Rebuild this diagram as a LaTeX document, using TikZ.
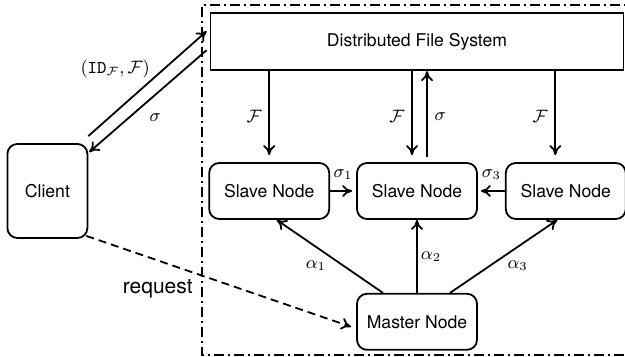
\documentclass[tikz,border=0pt]{standalone}
\usepackage{amsmath}
\usepackage[no-math]{fontspec}
\setmainfont{TeX Gyre Heros}
\usetikzlibrary{arrows.meta,positioning}

\begin{document}
\begin{tikzpicture}[
  x=1pt, y=1pt,
  font=\fontsize{8.8}{10.5}\selectfont,
  box/.style={draw, rounded corners=5pt, minimum width=60pt,
              minimum height=28pt, line width=0.9pt, align=center},
  arrow/.style={-{Computer Modern Rightarrow[length=5pt,width=6pt]},
                line width=0.9pt},
  lbl/.style={inner sep=1.5pt},
  frame/.style={line width=0.9pt, dash pattern=on 5pt off 2pt on 1pt off 2pt}
]
\useasboundingbox (0,0) rectangle (312.5,178.5);
\clip (0,0) rectangle (312.5,178.5);

%% Cluster frame
\draw[frame] (320,176) -| (101,1) -- (320,1);

%% Nodes
\node[box] (slave-2) at (208.5,83) {Slave Node};
\node[box, left=13pt of slave-2] (slave-1) {Slave Node};
\node[box, right=13.5pt of slave-2] (slave-3) {Slave Node};
\node[box, below=36.5pt of slave-2] (master) {Master Node};
\node[draw, line width=0.9pt, minimum width=206.5pt, minimum height=28.5pt,
      above=45.5pt of slave-2] (dfs) {Distributed File System};
\node[box, minimum width=40pt, minimum height=47pt,
      left=60pt of slave-1] (client) {Client};

%% Client <-> file system
\draw[arrow] ([yshift=3.5pt]client.north east)
  -- ([xshift=-1.5pt,yshift=5.25pt]dfs.west)
  node[midway, above left, xshift=5pt, yshift=-1pt]
  {$(\mathtt{ID}_{\mathcal{F}},\mathcal{F})$};
\draw[arrow] ([xshift=-1.5pt,yshift=-4.25pt]dfs.west)
  -- ([xshift=0.5pt,yshift=-4.5pt]client.north east)
  node[pos=0.55, below right] {$\sigma$};

%% File system -> slaves
\coordinate (f-2) at ([xshift=-2.5pt]slave-2.north);
\coordinate (s-2) at ([xshift=5pt]slave-2.north);
\coordinate (f-3) at ([xshift=-5.25pt]slave-3.north);
\draw[arrow, shorten >=3.5pt] (slave-1.north |- dfs.south) -- (slave-1.north)
  node[midway, left] {$\mathcal{F}$};
\draw[arrow, shorten >=3.5pt] (f-2 |- dfs.south) -- (f-2)
  node[midway, left] {$\mathcal{F}$};
\draw[arrow, shorten <=2.5pt] (s-2) -- (s-2 |- dfs.south)
  node[midway, right] {$\sigma$};
\draw[arrow, shorten >=3.5pt] (f-3 |- dfs.south) -- (f-3)
  node[midway, left] {$\mathcal{F}$};

%% Slave -> slave
\draw[arrow, shorten >=2pt] (slave-1) -- (slave-2)
  node[midway, above=2pt] {$\sigma_1$};
\draw[arrow, shorten >=1.5pt] (slave-3) -- (slave-2)
  node[midway, above=2pt] {$\sigma_3$};

%% Master -> slaves
\draw[arrow] ([xshift=-17pt]master.north) -- ([xshift=3.75pt]slave-1.south)
  node[midway, below left, lbl] {$\alpha_1$};
\draw[arrow] (master) -- (slave-2)
  node[midway, right, lbl] {$\alpha_2$};
\draw[arrow] ([xshift=16.5pt]master.north) -- ([xshift=-4.25pt]slave-3.south)
  node[midway, below right, lbl] {$\alpha_3$};

%% Request
\draw[arrow, dash pattern=on 4pt off 2.5pt]
  ([xshift=-1pt,yshift=1.5pt]client.south east)
  -- ([xshift=-2.5pt,yshift=-2.5pt]master.west)
  node[pos=0.42, below left, inner sep=2pt,
       font=\fontsize{10.5}{12.5}\selectfont] {request};

\end{tikzpicture}
\end{document}
